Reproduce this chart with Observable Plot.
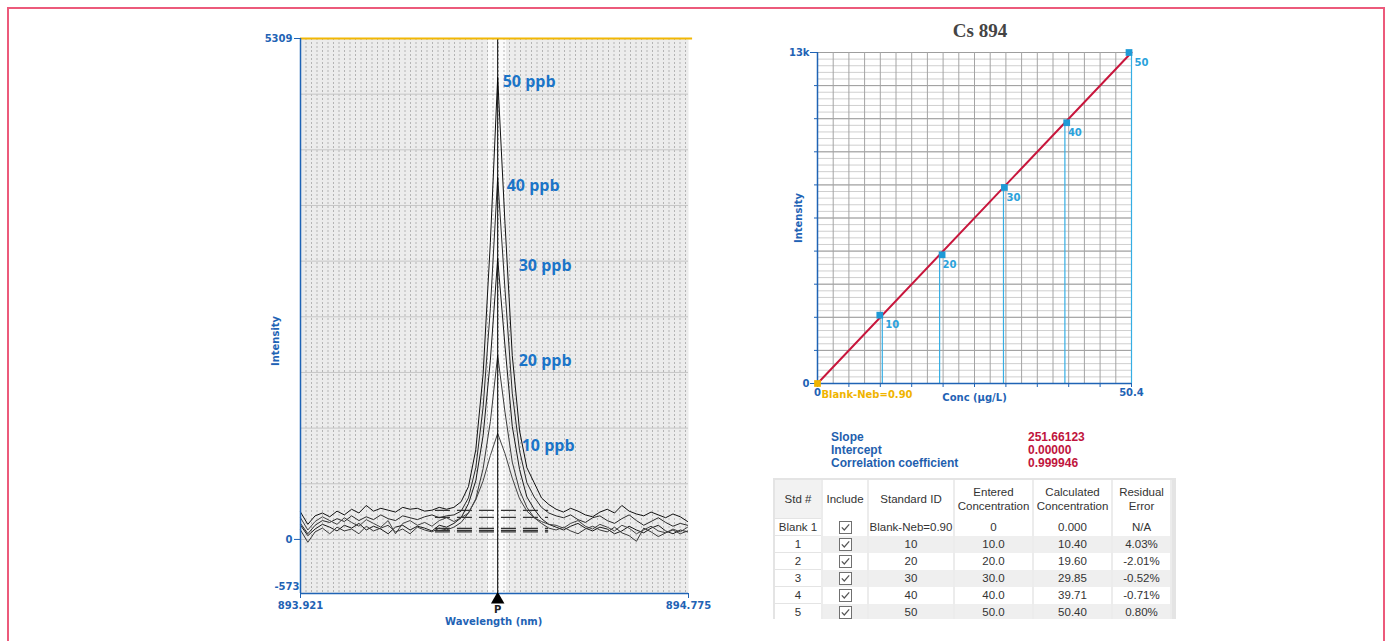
<!DOCTYPE html>
<html><head><meta charset="utf-8">
<script src="https://cdn.jsdelivr.net/npm/d3@7"></script>
<script src="https://cdn.jsdelivr.net/npm/@observablehq/plot@0.6"></script>
<style>
body{margin:0;background:#fff;width:1391px;height:641px;overflow:hidden;position:relative;font-family:"Liberation Sans",sans-serif;}
.abs{position:absolute;}
#border{position:absolute;left:7px;top:7px;width:1378px;height:700px;border:2px solid #ec5a7b;box-sizing:border-box;}
#title{left:880px;top:20px;width:200px;text-align:center;font-family:"Liberation Serif",serif;font-weight:bold;font-size:19px;color:#444;}
#stats{left:831px;top:431px;font-weight:bold;font-size:12px;line-height:13px;color:#1f5fae;}
#statsv{left:1028px;top:431px;font-weight:bold;font-size:12px;line-height:13px;color:#c0143c;}
#tblwrap{left:773px;top:478px;width:403px;height:141px;overflow:hidden;background:#e4e4e4;}
table{border-collapse:collapse;table-layout:fixed;margin:2px;font-size:11.5px;color:#333;}
td{text-align:center;padding:0;border-right:2px solid #ececec;white-space:nowrap;overflow:hidden;}
thead td{height:38px;background:#fff;line-height:14px;}
tbody td{height:16px;line-height:16px;}
tbody tr.odd td{background:#efefef;}
tbody tr.even td{background:#fff;}
td.std{background:#fff !important;border-bottom:1.5px solid #e4e4e4;}
thead td.std{background:#f2f2f2 !important;}
</style></head><body>
<div id="border"></div>
<div id="left" class="abs" style="left:250px;top:28px;width:460px;height:600px"></div>
<div id="right" class="abs" style="left:770px;top:40px;width:400px;height:370px"></div>
<div id="title" class="abs"></div>
<div id="stats" class="abs"></div>
<div id="statsv" class="abs"></div>
<div id="tblwrap" class="abs"></div>
<script>
// ---------------- data: spectra ----------------
const wavelengths = [893.9210,893.9371,893.9531,893.9692,893.9853,894.0014,894.0174,894.0335,894.0496,894.0657,894.0817,894.0978,894.1139,894.1300,894.1460,894.1621,894.1782,894.1943,894.2103,894.2264,894.2425,894.2586,894.2746,894.2907,894.3068,894.3229,894.3389,894.3550,894.3711,894.3871,894.4032,894.4193,894.4354,894.4514,894.4675,894.4836,894.4997,894.5157,894.5318,894.5479,894.5640,894.5800,894.5961,894.6122,894.6283,894.6443,894.6604,894.6765,894.6926,894.7086,894.7247,894.7408,894.7569,894.7729];
const ppb50 = [290,160,250,280,240,300,260,320,280,360,300,330,310,290,340,320,330,300,310,340,320,
 340,400,560,950,1750,3150,4897,3350,1950,1150,760,600,440,370,320,
 290,330,300,260,240,290,320,280,360,300,270,250,290,260,230,270,240,190];
const ppb40 = [170,60,150,200,180,220,190,250,200,240,210,260,220,200,250,230,210,240,260,230,250,
 260,300,440,760,1400,2450,3836,2650,1550,940,600,450,340,280,250,
 230,260,210,180,230,250,200,170,220,260,200,150,190,230,180,140,170,150];
const ppb30 = [150,40,110,160,130,90,150,120,170,100,140,110,60,130,150,100,140,120,90,150,130,
 170,230,380,620,1100,1900,2978,2050,1200,740,450,320,220,160,130,
 100,140,170,120,90,130,110,60,90,140,100,70,120,150,90,60,100,80];
const ppb20 = [100,-30,80,120,60,130,90,110,60,140,90,120,150,80,110,60,130,100,80,120,100,
 130,180,280,430,750,1250,1950,1350,820,520,340,230,170,120,100,
 130,90,60,110,140,100,80,130,70,40,-20,120,80,30,70,100,60,90];
const ppb10 = [230,100,190,240,200,160,230,180,140,210,170,130,200,60,170,200,150,180,140,200,230,
 190,230,280,420,620,890,1123,910,650,430,300,230,190,160,150,
 120,170,200,140,110,160,130,90,150,120,60,100,140,90,70,110,80,130];
const traceNames = ["50 ppb","40 ppb","30 ppb","20 ppb","10 ppb"];
const traceValues = [ppb50, ppb40, ppb30, ppb20, ppb10];
const backgroundLevels = [307, 233, 117, 95, 80];
const backgroundRange = [894.218, 894.467];
const peakWavelength = 894.355;
const windowBand = [894.3348, 894.3744];
const wlRange = [893.921, 894.775];
const intensityRange = [-573, 5309];

// ---------------- data: calibration ----------------
const calTitle = "Cs 894";
const stdEntered = [10, 20, 30, 40, 50];
const stdCalculated = [10.40, 19.60, 29.85, 39.71, 50.40];
const stdIntensity = [2617, 4933, 7512, 9993, 12684];
const stdLabels = ["10","20","30","40","50"];
const blankLabel = "Blank-Neb=0.90";
const slope = 251.66123, intercept = 0.0;
const concRange = [0, 50.4];
const calIntensityRange = [0, 12684];
const statNames = ["Slope","Intercept","Correlation coefficient"];
const statValues = ["251.66123","0.00000","0.999946"];

// ---------------- data: table ----------------
const tableHeaders = ["Std #","Include","Standard ID","Entered<br>Concentration","Calculated<br>Concentration","Residual<br>Error"];
const stdNums = ["Blank 1","1","2","3","4","5"];
const stdIds = ["Blank-Neb=0.90","10","20","30","40","50"];
const enteredConc = ["0","10.0","20.0","30.0","40.0","50.0"];
const calcConc = ["0.000","10.40","19.60","29.85","39.71","50.40"];
const residualErr = ["N/A","4.03%","-2.01%","-0.52%","-0.71%","0.80%"];

// ---------------- styles ----------------
const axisBlue = "#1f63b5";
const labelBlue = "#1b74c8";
const lightBlue = "#1e9ad6";
const traceColors = ["#111","#2a2a2a","#1a1a1a","#3a3a3a","#444"];
const labelDx = [5, 9, 21, 21, 24];
const labelDy = [5, 8, 7, 5, 12];

// ---------------- left chart ----------------
const rows = traceNames.flatMap((s, i) => wavelengths.map((w, j) => ({s, w, v: traceValues[i][j]})));
const peaks = traceNames.map((s, i) => ({s, w: peakWavelength, v: d3.max(traceValues[i])}));
const colorOf = Object.fromEntries(traceNames.map((s, i) => [s, traceColors[i]]));
const dotStep = (wlRange[1] - wlRange[0]) * 5.5 / 388;
const dotGrid = d3.range(wlRange[0] + dotStep, wlRange[1], dotStep);
const hGrid = d3.range(0, 9).map(k => k * intensityRange[1] / 9);

const left = Plot.plot({
  width: 460, height: 600,
  marginLeft: 50, marginRight: 22, marginTop: 10, marginBottom: 35,
  x: {domain: wlRange, label: null},
  y: {domain: intensityRange, label: null},
  style: {fontFamily: "DejaVu Sans", fontSize: "10px", background: "transparent", overflow: "visible"},
  marks: [
    Plot.frame({fill: "#ececec", stroke: null}),
    Plot.rect([windowBand], {x1: d => d[0], x2: d => d[1], y1: intensityRange[0], y2: intensityRange[1], fill: "#fbfbfb"}),
    Plot.ruleX(dotGrid, {stroke: "#b4b4b4", strokeDasharray: "2,2"}),
    Plot.ruleY(hGrid, {stroke: "#c6c6c6"}),
    Plot.ruleY(backgroundLevels, {x1: backgroundRange[0], x2: backgroundRange[1], stroke: "#333", strokeWidth: 1.2, strokeDasharray: "15,7"}),
    Plot.line(rows, {x: "w", y: "v", z: "s", stroke: d => colorOf[d.s], strokeWidth: 1}),
    Plot.ruleX([peakWavelength], {stroke: "#000", strokeWidth: 1}),
    ...peaks.map((p, i) => Plot.text([p], {x: "w", y: "v", text: "s", dx: labelDx[i], dy: labelDy[i], textAnchor: "start",
      fill: labelBlue, fontSize: 16, fontWeight: "bold", fontFamily: "Open Sans"})),
    Plot.ruleY([intensityRange[1]], {stroke: "#f2b705", strokeWidth: 2, x1: wlRange[0], x2: wlRange[1] + 0.009}),
    Plot.ruleX([wlRange[0]], {stroke: axisBlue, strokeWidth: 1.5}),
    Plot.ruleY([intensityRange[0]], {stroke: axisBlue, strokeWidth: 1.5}),
    Plot.axisY([0, intensityRange[1]], {color: axisBlue, tickSize: 6, tickPadding: 2, fontWeight: "bold", tickFormat: d => String(d)}),
    Plot.axisY([intensityRange[0]], {color: axisBlue, tickSize: 0, tickPadding: 1, dy: -7, fontWeight: "bold", tickFormat: d => String(d)}),
    Plot.axisX(wlRange, {color: axisBlue, tickSize: 5, tickPadding: 3, fontWeight: "bold", tickFormat: d => d.toFixed(3)}),
    Plot.dot([peakWavelength], {x: d => d, y: intensityRange[0], symbol: "triangle", r: 5, fill: "#000", dy: 6}),
    Plot.text(["P"], {x: peakWavelength, y: intensityRange[0], dy: 16, fill: "#222", fontWeight: "bold"}),
    Plot.text(["Wavelength (nm)"], {x: peakWavelength, y: intensityRange[0], dx: -4, dy: 28, fill: axisBlue, fontWeight: "bold"}),
    Plot.text(["Intensity"], {frameAnchor: "left", textAnchor: "middle", dx: -25, dy: 25, rotate: -90, fill: axisBlue, fontWeight: "bold"})
  ]
});
document.getElementById("left").appendChild(left);

// ---------------- right chart ----------------
const stds = stdEntered.map((c, i) => ({c, calc: stdCalculated[i], I: stdIntensity[i], label: stdLabels[i]}));
const fitLine = [concRange[0], concRange[1]].map(c => ({c, I: intercept + slope * c}));
const vGrid = d3.range(0, 21).map(k => k * concRange[1] / 20);
const yMinor = d3.range(0, 51).map(k => k * calIntensityRange[1] / 50);
const yMajor = d3.range(0, 11).map(k => k * calIntensityRange[1] / 10);
const xTicks = d3.range(0, 11).map(k => k * concRange[1] / 10);

const right = Plot.plot({
  width: 400, height: 370,
  marginLeft: 47, marginRight: 39, marginTop: 12, marginBottom: 27,
  x: {domain: concRange, label: null},
  y: {domain: calIntensityRange, label: null},
  style: {fontFamily: "DejaVu Sans", fontSize: "10px", background: "transparent", overflow: "visible"},
  marks: [
    Plot.ruleY(yMinor, {stroke: "#cfcfcf"}),
    Plot.ruleY(yMajor, {stroke: "#9e9e9e"}),
    Plot.ruleX(vGrid, {stroke: "#a4a4a4"}),
    Plot.ruleX(stds, {x: "calc", y1: 0, y2: "I", stroke: "#35aee4", strokeWidth: 1.2}),
    Plot.line(fitLine, {x: "c", y: "I", stroke: "#c8163c", strokeWidth: 2}),
    Plot.ruleX([0], {stroke: axisBlue, strokeWidth: 1.5}),
    Plot.ruleY([0], {stroke: axisBlue, strokeWidth: 1.5}),
    Plot.axisY([calIntensityRange[0], calIntensityRange[1]], {color: axisBlue, tickSize: 7, tickPadding: 1, fontWeight: "bold",
      tickFormat: d => d === 0 ? "0" : "13k"}),
    Plot.axisY(yMajor, {color: axisBlue, tickSize: 3, tickFormat: () => ""}),
    Plot.axisX(xTicks, {color: axisBlue, tickSize: 4, tickFormat: () => ""}),
    Plot.axisX([concRange[0], concRange[1]], {color: axisBlue, tickSize: 0, tickPadding: 5, fontWeight: "bold", tickFormat: d => String(d)}),
    Plot.dot(stds, {x: "c", y: "I", symbol: "square", r: 3.8, fill: lightBlue}),
    Plot.dot([0], {x: 0, y: 0, symbol: "square", r: 3.8, fill: "#f0b400"}),
    Plot.text(stds, {x: "calc", y: "I", text: "label", dx: 3, dy: 10, textAnchor: "start", fill: "#2aa2dc", fontWeight: "bold"}),
    Plot.text([blankLabel], {x: 0, y: 0, dx: 4, dy: 11, textAnchor: "start", fill: "#f0b400", fontWeight: "bold"}),
    Plot.text(["Conc (μg/L)"], {x: (concRange[0] + concRange[1]) / 2, y: 0, dy: 14, fill: axisBlue, fontWeight: "bold"}),
    Plot.text(["Intensity"], {frameAnchor: "left", textAnchor: "middle", dx: -19, dy: 0, rotate: -90, fill: axisBlue, fontWeight: "bold"})
  ]
});
document.getElementById("right").appendChild(right);

// ---------------- text blocks ----------------
document.getElementById("title").textContent = calTitle;
document.getElementById("stats").innerHTML = statNames.join("<br>");
document.getElementById("statsv").innerHTML = statValues.join("<br>");

const check = '<svg width="13" height="13" style="vertical-align:middle"><rect x="0.5" y="0.5" width="12" height="12" fill="#fff" stroke="#707070"/><path d="M2.8 6.3 L5.3 9 L10.2 3.3" fill="none" stroke="#555" stroke-width="1.2"/></svg>';
const widths = [47, 46, 86, 79, 79, 59];
let html = '<table><colgroup>' + widths.map(w => `<col style="width:${w}px">`).join('') + '</colgroup><thead><tr>' +
  tableHeaders.map((h, i) => `<td class="${i === 0 ? 'std' : ''}">${h}</td>`).join('') + '</tr></thead><tbody>';
stdNums.forEach((s, i) => {
  html += `<tr class="${i % 2 ? 'odd' : 'even'}"><td class="std">${s}</td><td>${check}</td><td>${stdIds[i]}</td><td>${enteredConc[i]}</td><td>${calcConc[i]}</td><td>${residualErr[i]}</td></tr>`;
});
html += '</tbody></table>';
document.getElementById("tblwrap").innerHTML = html;
</script>
</body></html>
